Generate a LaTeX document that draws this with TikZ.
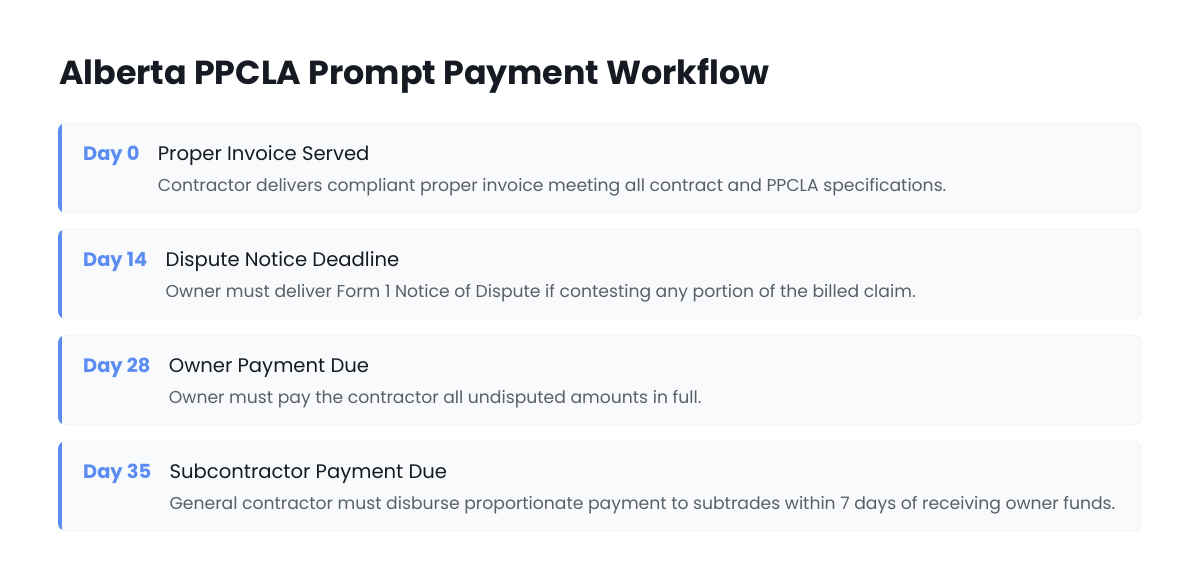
\documentclass[tikz,border=0pt]{standalone}
\usepackage{fontspec}
\setmainfont{Poppins}
\usepackage{tikz}
\usetikzlibrary{positioning}
\definecolor{accent}{HTML}{5B8CF2}
\definecolor{cardfill}{HTML}{F8FAFC}
\definecolor{cardline}{HTML}{E3E7EE}
\definecolor{headtext}{HTML}{151A23}
\definecolor{desctext}{HTML}{5A5F68}
\tikzset{
  daylabel/.style={anchor=base west, inner sep=0pt, text=accent, font=\fontsize{19.4}{22}\selectfont\bfseries},
  headlabel/.style={anchor=base west, inner sep=0pt, text=headtext, font=\fontsize{19.6}{22}\selectfont},
  desclabel/.style={anchor=base west, inner sep=0pt, text=desctext, font=\fontsize{17.2}{19}\selectfont}
}
\newcommand{\stepcard}[5]{%
  % #1 name, #2 top y, #3 day, #4 heading, #5 description
  \path[fill=cardfill, draw=cardline, rounded corners=8pt] (58,#2) rectangle (1141,#2+90);
  \begin{scope}
    \clip[rounded corners=8pt] (58,#2) rectangle (1141,#2+90);
    \fill[accent] (58,#2) rectangle (61.5,#2+90);
  \end{scope}
  \node[daylabel] (#1day) at (83,#2+37) {#3};
  \node[headlabel, right=18pt of #1day.base east, anchor=base west] (#1head) {#4};
  \node[desclabel] (#1desc) at ([yshift=-31pt]#1head.base west) {#5};
}
\begin{document}
\begin{tikzpicture}[x=1pt,y=-1pt]
\useasboundingbox[fill=white] (0,0) rectangle (1200,584);
\node[anchor=base west, inner sep=0pt, text=headtext, font=\fontsize{33.3}{38}\selectfont\bfseries] (title) at (59,84) {Alberta PPCLA Prompt Payment Workflow};
\stepcard{invoice}{123}{Day 0}{Proper Invoice Served}{Contractor delivers compliant proper invoice meeting all contract and PPCLA specifications.}
\stepcard{dispute}{229}{Day 14}{Dispute Notice Deadline}{Owner must deliver Form 1 Notice of Dispute if contesting any portion of the billed claim.}
\stepcard{owner}{335}{Day 28}{Owner Payment Due}{Owner must pay the contractor all undisputed amounts in full.}
\stepcard{sub}{441}{Day 35}{Subcontractor Payment Due}{General contractor must disburse proportionate payment to subtrades within 7 days of receiving owner funds.}
\end{tikzpicture}
\end{document}
